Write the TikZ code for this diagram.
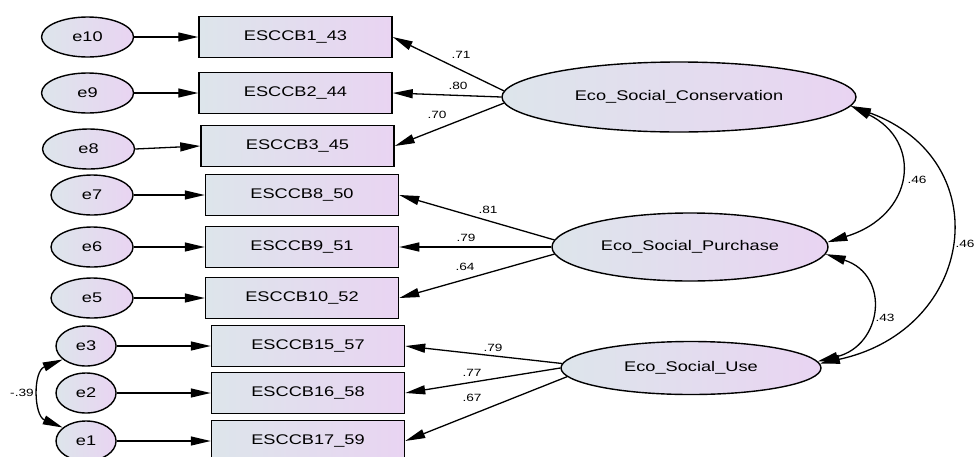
\documentclass[tikz,border=0pt]{standalone}
\usepackage{fontspec}
\setmainfont{Liberation Sans}[FakeStretch=1.3]
\usetikzlibrary{shapes, arrows.meta, positioning}

\definecolor{fillgray}{RGB}{221,229,235}
\definecolor{filllilac}{RGB}{233,212,242}

\begin{document}
\begin{tikzpicture}[x=1pt, y=-1pt, >={Triangle[length=20pt,width=9pt]}]

  % Define styles for the different parts of the model
  \tikzstyle{observed} = [draw, rectangle, line width=1.5pt, minimum width=193pt, minimum height=41pt, inner sep=0pt, left color=fillgray, right color=filllilac, font=\fontsize{14}{16}\selectfont]
  \tikzstyle{errterm} = [draw, ellipse, line width=1.4pt, minimum height=40pt, inner sep=0pt, left color=fillgray, right color=filllilac, font=\fontsize{14}{16}\selectfont]
  \tikzstyle{factor} = [draw, ellipse, line width=1.4pt, inner sep=0pt, left color=fillgray, right color=filllilac, font=\fontsize{14}{16}\selectfont]
  \tikzstyle{loading} = [->, line width=1.3pt, black]
  \tikzstyle{covar} = [<->, line width=1.3pt, black]
  \tikzstyle{coef} = [inner sep=1pt, font=\fontsize{10.5}{12}\selectfont]

  \useasboundingbox (0,0) rectangle (975,456);

  % observed indicators
  \node (b1) [observed] at (295.5,37) {ESCCB1\_43};
  \node (b2) [observed] at (295.5,93) {ESCCB2\_44};
  \node (b3) [observed] at (297.5,146) {ESCCB3\_45};
  \node (b8) [observed] at (302,195) {ESCCB8\_50};
  \node (b9) [observed] at (302,247) {ESCCB9\_51};
  \node (b10) [observed] at (302,298) {ESCCB10\_52};
  \node (b15) [observed] at (308,346) {ESCCB15\_57};
  \node (b16) [observed] at (308,393) {ESCCB16\_58};
  \node (b17) [observed] at (308,441) {ESCCB17\_59};

  % error terms
  \node (e10) [errterm, minimum width=92pt, left=64pt of b1] {e10};
  \node (e9) [errterm, minimum width=92pt, left=64pt of b2] {e9};
  \node (e8) [errterm, minimum width=92pt, left=65pt of b3, yshift=-3pt] {e8};
  \node (e7) [errterm, minimum width=82pt, left=71pt of b8] {e7};
  \node (e6) [errterm, minimum width=82pt, left=71pt of b9] {e6};
  \node (e5) [errterm, minimum width=82pt, left=71pt of b10] {e5};
  \node (e3) [errterm, minimum width=60pt, left=94pt of b15] {e3};
  \node (e2) [errterm, minimum width=60pt, left=94pt of b16] {e2};
  \node (e1) [errterm, minimum width=60pt, left=94pt of b17] {e1};

  % latent factors
  \node (cons) [factor, minimum width=354pt, minimum height=70pt] at (679,97) {Eco\_Social\_Conservation};
  \node (purch) [factor, minimum width=276pt, minimum height=68pt] at (690,247) {Eco\_Social\_Purchase};
  \node (use) [factor, minimum width=260pt, minimum height=53pt] at (691,368) {Eco\_Social\_Use};

  \draw[loading] (e10) -- (b1);
  \draw[loading] (e9) -- (b2);
  \draw[loading] (e8.east) -- (b3.west);
  \draw[loading] (e7) -- (b8);
  \draw[loading] (e6) -- (b9);
  \draw[loading] (e5) -- (b10);
  \draw[loading] (e3) -- (b15);
  \draw[loading] (e2) -- (b16);
  \draw[loading] (e1) -- (b17);

  \draw[loading] (cons.178) -- (b1.east);
  \draw[loading] (cons.west) -- (b2.east);
  \draw[loading] (cons.182) -- (b3.east);
  \draw[loading] (purch.177) -- (b8.east);
  \draw[loading] (purch.west) -- (b9.east);
  \draw[loading] (purch.183) -- (b10.east);
  \draw[loading] (use.178) -- (b15.east);
  \draw[loading] (use.west) -- (b16.east);
  \draw[loading] (use.184) -- (b17.east);

  \draw[covar] (cons.-3) .. controls +(72,35) and +(88,-27) .. (purch.2);
  \draw[covar] (purch.-3) .. controls +(65,21) and +(65,-16) .. (use.3);
  \draw[covar] (cons.-3) .. controls +(148,54) and +(156,-34) .. (use.2);
  \draw[covar] (e3.210) .. controls +(-30,12) and +(-29,-12) .. (e1.150);

  % estimates
  \node (wc1) [coef] at (461,55) {.71};
  \node (wc2) [coef] at (458,86) {.80};
  \node (wc3) [coef] at (437,115) {.70};
  \node (wp1) [coef] at (488,210) {.81};
  \node (wp2) [coef] at (466,238) {.79};
  \node (wp3) [coef] at (465,267) {.64};
  \node (wu1) [coef] at (493,348) {.79};
  \node (wu2) [coef] at (472,373) {.77};
  \node (wu3) [coef] at (472,398) {.67};
  \node (rcp) [coef] at (917,180) {.46};
  \node (rpu) [coef] at (885,318) {.43};
  \node (rcu) [coef] at (965,244) {.46};
  \node (re31) [coef] at (22,393) {-.39};

\end{tikzpicture}
\end{document}
